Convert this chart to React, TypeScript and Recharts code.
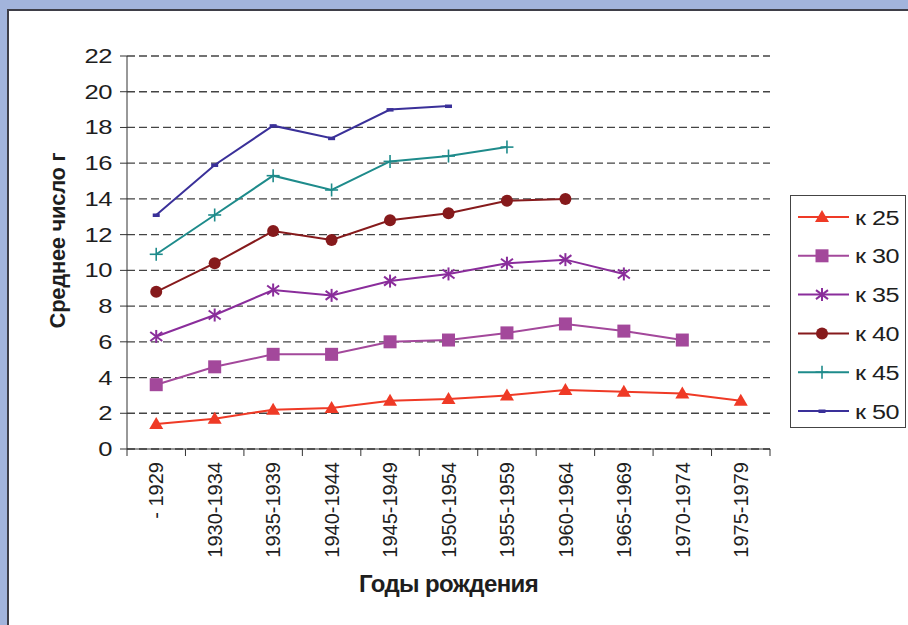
import { LineChart, Line, XAxis, YAxis, CartesianGrid, Label } from "recharts";

const PERIODS = [
  "- 1929",
  "1930-1934",
  "1935-1939",
  "1940-1944",
  "1945-1949",
  "1950-1954",
  "1955-1959",
  "1960-1964",
  "1965-1969",
  "1970-1974",
  "1975-1979",
];

const K25 = [1.4, 1.7, 2.2, 2.3, 2.7, 2.8, 3.0, 3.3, 3.2, 3.1, 2.7];
const K30 = [3.6, 4.6, 5.3, 5.3, 6.0, 6.1, 6.5, 7.0, 6.6, 6.1];
const K35 = [6.3, 7.5, 8.9, 8.6, 9.4, 9.8, 10.4, 10.6, 9.8];
const K40 = [8.8, 10.4, 12.2, 11.7, 12.8, 13.2, 13.9, 14.0];
const K45 = [10.9, 13.1, 15.3, 14.5, 16.1, 16.4, 16.9];
const K50 = [13.1, 15.9, 18.1, 17.4, 19.0, 19.2];

const Y_TICKS = [0, 2, 4, 6, 8, 10, 12, 14, 16, 18, 20, 22];

const SERIES = [
  { key: "k25", name: "к 25", values: K25, color: "#ef3a26", marker: "triangle" },
  { key: "k30", name: "к 30", values: K30, color: "#a3489b", marker: "square" },
  { key: "k35", name: "к 35", values: K35, color: "#8a2d9b", marker: "star" },
  { key: "k40", name: "к 40", values: K40, color: "#861a1c", marker: "circle" },
  { key: "k45", name: "к 45", values: K45, color: "#1e8b8b", marker: "plus" },
  { key: "k50", name: "к 50", values: K50, color: "#3a3099", marker: "dash" },
];

const data = PERIODS.map((period, i) => {
  const row: Record<string, string | number | null> = { period };
  SERIES.forEach((s) => {
    row[s.key] = i < s.values.length ? s.values[i] : null;
  });
  return row;
});

const W = 908;
const H = 625;
const X_AXIS_H = 176;
const Y_AXIS_W = 127;
const M = { top: 56, right: 138, bottom: 0, left: 0 };
const PLOT_W = W - M.right - M.left - Y_AXIS_W;
const BW = PLOT_W / PERIODS.length;
const FONT = "'Liberation Sans', Arial, sans-serif";
const AXIS = "#333";
const INK = "#1e1e1e";

function Marker({ type, cx, cy, color }: { type: string; cx: number; cy: number; color: string }) {
  switch (type) {
    case "triangle":
      return <polygon points={`${cx},${cy - 7} ${cx - 7},${cy + 5} ${cx + 7},${cy + 5}`} fill={color} />;
    case "square":
      return <rect x={cx - 6.5} y={cy - 6.5} width={13} height={13} fill={color} />;
    case "star":
      return (
        <g stroke={color} strokeWidth={2}>
          <line x1={cx} y1={cy - 6.5} x2={cx} y2={cy + 6.5} />
          <line x1={cx - 6} y1={cy - 4.5} x2={cx + 6} y2={cy + 4.5} />
          <line x1={cx - 6} y1={cy + 4.5} x2={cx + 6} y2={cy - 4.5} />
        </g>
      );
    case "circle":
      return <circle cx={cx} cy={cy} r={6} fill={color} />;
    case "plus":
      return (
        <g stroke={color} strokeWidth={1.6}>
          <line x1={cx - 6.5} y1={cy} x2={cx + 6.5} y2={cy} />
          <line x1={cx} y1={cy - 6.5} x2={cx} y2={cy + 6.5} />
        </g>
      );
    default:
      return <rect x={cx - 3.5} y={cy - 1.5} width={7} height={3.5} fill={color} />;
  }
}

function XTick(props: any) {
  const { x, y, payload, index } = props;
  const last = index === PERIODS.length - 1;
  return (
    <g>
      <line x1={x - BW / 2} y1={y} x2={x - BW / 2} y2={y + 7} stroke={AXIS} />
      {last && <line x1={x + BW / 2} y1={y} x2={x + BW / 2} y2={y + 7} stroke={AXIS} />}
      <text
        x={x}
        y={y + 13}
        dy="0.36em"
        transform={`rotate(-90, ${x}, ${y + 13})`}
        textAnchor="end"
        fontSize={20}
        fontFamily={FONT}
        fill={INK}
      >
        {payload.value}
      </text>
    </g>
  );
}

function YTick(props: any) {
  const { x, y, payload } = props;
  return (
    <text
      transform={`translate(${x}, ${y}) scale(1.28, 1)`}
      textAnchor="end"
      dy="0.35em"
      fontSize={20}
      fontFamily={FONT}
      fill={INK}
      letterSpacing={-0.4}
    >
      {payload.value}
    </text>
  );
}

function YTitle(props: any) {
  const { viewBox } = props;
  const cx = 57;
  const cy = viewBox.y + viewBox.height / 2 - 12;
  return (
    <text
      x={cx}
      y={cy}
      dy="0.36em"
      transform={`rotate(-90, ${cx}, ${cy})`}
      textAnchor="middle"
      fontSize={22}
      fontWeight="bold"
      fontFamily={FONT}
      fill={INK}
      letterSpacing={-0.3}
    >
      Среднее число г
    </text>
  );
}

function LegendBox() {
  return (
    <svg width={118} height={236} style={{ display: "block" }}>
      <rect x={0.5} y={0.5} width={115} height={232} fill="#fff" stroke="#444" />
      {SERIES.map((s, i) => {
        const cy = 22 + i * 38.8;
        return (
          <g key={s.key}>
            <line x1={8} y1={cy} x2={59} y2={cy} stroke={s.color} strokeWidth={2} />
            <Marker type={s.marker} cx={32} cy={cy} color={s.color} />
            <text
              transform={`translate(65, ${cy}) scale(1.2, 1)`}
              dy="0.36em"
              fontSize={21}
              fontFamily={FONT}
              fill={INK}
              letterSpacing={-0.4}
            >
              {s.name}
            </text>
          </g>
        );
      })}
    </svg>
  );
}

export default function App() {
  return (
    <div style={{ position: "absolute", left: 0, top: 0, width: W, height: H, background: "#a2b4dc" }}>
      <div
        style={{
          position: "absolute",
          left: 7,
          top: 9,
          right: 0,
          bottom: 0,
          background: "#fff",
          borderTop: "2px solid #3e3e48",
          borderLeft: "2px solid #3e3e48",
        }}
      />
      <div style={{ position: "absolute", left: 0, top: 0 }}>
        <LineChart width={W} height={H} data={data} margin={M}>
          <CartesianGrid vertical={false} stroke="#444" strokeDasharray="8 4" strokeWidth={1.3} />
          <XAxis
            dataKey="period"
            interval={0}
            padding={{ left: BW / 2, right: BW / 2 }}
            tickLine={false}
            tickSize={0}
            tickMargin={0}
            tick={<XTick />}
            axisLine={{ stroke: AXIS }}
            height={X_AXIS_H}
          >
            <Label
              value="Годы рождения"
              position="insideBottom"
              offset={33}
              style={{ fontSize: 24, fontWeight: "bold", fontFamily: FONT, fill: INK, letterSpacing: -0.6 }}
            />
          </XAxis>
          <YAxis
            domain={[0, 22]}
            ticks={Y_TICKS}
            interval={0}
            width={Y_AXIS_W}
            tickSize={7}
            tickMargin={8}
            tick={<YTick />}
            axisLine={{ stroke: AXIS }}
            tickLine={{ stroke: AXIS }}
          >
            <Label content={<YTitle />} />
          </YAxis>
          <YAxis
            yAxisId="frame"
            orientation="right"
            width={0}
            tick={false}
            tickLine={false}
            axisLine={{ stroke: "#888", strokeWidth: 2 }}
          />
          {SERIES.map((s) => (
            <Line
              key={s.key}
              dataKey={s.key}
              name={s.name}
              stroke={s.color}
              strokeWidth={2}
              isAnimationActive={false}
              connectNulls={false}
              dot={(p: any) =>
                p.value == null || p.cy == null ? (
                  <g key={`${s.key}-${p.index}`} />
                ) : (
                  <Marker key={`${s.key}-${p.index}`} type={s.marker} cx={p.cx} cy={p.cy} color={s.color} />
                )
              }
              activeDot={false}
            />
          ))}
        </LineChart>
      </div>
      <div style={{ position: "absolute", left: 790, top: 195 }}>
        <LegendBox />
      </div>
    </div>
  );
}
